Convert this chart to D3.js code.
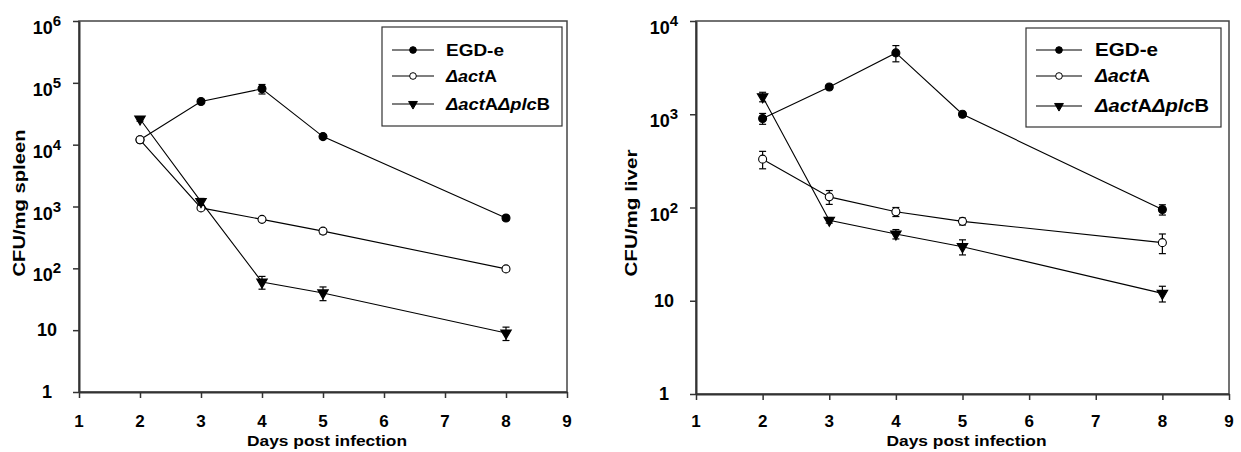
<!DOCTYPE html>
<html>
<head>
<meta charset="utf-8">
<script src="https://cdn.jsdelivr.net/npm/d3@7"></script>
<style>
  body { margin: 0; background: #fff; }
  text { font-family: "Liberation Sans", Arial, sans-serif; font-weight: bold; fill: #000; }
</style>
</head>
<body>
<svg id="chart" width="1241" height="452"></svg>
<script>
// days sampled after infection
var days = [2, 3, 4, 5, 8];
var xTicks = [1, 2, 3, 4, 5, 6, 7, 8, 9];

// spleen (CFU/mg)
var spleenEGDe    = [12000, 50000, 80000, 13500, 650];
var spleenEGDeErr = [800, 3000, 14000, 900, 50];
var spleenActA    = [12000, 950, 620, 400, 98];
var spleenActAErr = [1000, 60, 40, 40, 8];
var spleenPlcB    = [26000, 1200, 60, 40, 9];
var spleenPlcBErr = [2000, 150, 14, 10, 2.2];
var spleenYTicks  = [1, 10, 100, 1e3, 1e4, 1e5, 1e6];

// liver (CFU/mg)
var liverEGDe     = [900, 1960, 4550, 1000, 95];
var liverEGDeErr  = [120, 90, 900, 60, 12];
var liverActA     = [330, 130, 90, 71, 42];
var liverActAErr  = [70, 22, 10, 6, 10];
var liverPlcB     = [1540, 73, 52, 38, 12];
var liverPlcBErr  = [180, 5, 6, 7, 2.3];
var liverYTicks   = [1, 10, 100, 1e3, 1e4];

var svg = d3.select("#chart");

/**
 * Zeichnet ein Panel (Achsen, Reihen, Fehlerbalken, Legende).
 */
function drawPanel(p) {
  var x = d3.scaleLinear().domain([1, 9]).range([p.left, p.right]);
  var y = d3.scaleLog().domain([1, p.yMax]).range([p.bottom, p.top]);

  var g = svg.append("g");

  // Rahmen oben/rechts
  g.append("rect")
    .attr("x", p.left).attr("y", p.top)
    .attr("width", p.right - p.left).attr("height", p.bottom - p.top)
    .attr("fill", "none").attr("stroke", "#444").attr("stroke-width", 1.5);

  // Achsen
  var yAxis = g.append("g")
    .attr("transform", "translate(" + p.left + ",0)")
    .call(d3.axisLeft(y).tickValues(p.yTicks).tickSize(6).tickSizeOuter(0).tickFormat(function() { return ""; }));
  var xAxis = g.append("g")
    .attr("transform", "translate(0," + p.bottom + ")")
    .call(d3.axisBottom(x).tickValues(xTicks).tickSize(6).tickSizeOuter(0).tickFormat(function() { return ""; }));
  [yAxis, xAxis].forEach(function(a) {
    a.select(".domain").attr("stroke", "#333").attr("stroke-width", 2);
    a.selectAll(".tick line").attr("stroke", "#333").attr("stroke-width", 1.5);
  });

  // y-Beschriftung mit Hochzahl
  p.yTicks.forEach(function(v) {
    var e = Math.round(Math.log10(v));
    var t = g.append("text")
      .attr("x", p.left - 32)
      .attr("text-anchor", "middle")
      .style("font-size", "18px");
    if (e < 2) {
      t.attr("y", y(v) + 6).text(v);
    } else {
      t.attr("y", y(v) + 13);
      t.append("tspan").text("10");
      t.append("tspan").attr("dy", -8).style("font-size", "15px").text(e);
    }
  });

  // x-Beschriftung
  xTicks.forEach(function(v) {
    g.append("text")
      .attr("x", x(v)).attr("y", 427)
      .attr("text-anchor", "middle")
      .style("font-size", "17px")
      .text(v);
  });

  // Achsentitel
  g.append("text")
    .attr("x", (p.left + p.right) / 2 + 4).attr("y", 446)
    .attr("text-anchor", "middle").style("font-size", "15px")
    .attr("textLength", p.xTitleLen).attr("lengthAdjust", "spacingAndGlyphs")
    .text("Days post infection");
  g.append("text")
    .attr("transform", "translate(" + p.yTitleX + "," + p.yTitleY + ") rotate(-90)")
    .attr("text-anchor", "middle").style("font-size", "17px")
    .attr("textLength", p.yTitleLen).attr("lengthAdjust", "spacingAndGlyphs")
    .text(p.yTitle);

  var line = d3.line()
    .x(function(d) { return x(d.day); })
    .y(function(d) { return y(d.v); });

  p.series.forEach(function(s) {
    var pts = days.map(function(d, i) { return { day: d, v: s.values[i], err: s.err[i] }; });

    g.append("path").datum(pts)
      .attr("d", line)
      .attr("fill", "none").attr("stroke", "#000").attr("stroke-width", 1.1);

    // Fehlerbalken
    var eb = g.selectAll(null).data(pts).enter().append("g")
      .attr("stroke", "#000").attr("stroke-width", 1.2);
    eb.append("line")
      .attr("x1", function(d) { return x(d.day); }).attr("x2", function(d) { return x(d.day); })
      .attr("y1", function(d) { return y(d.v + d.err); })
      .attr("y2", function(d) { return y(Math.max(d.v - d.err, 1)); });
    [1, -1].forEach(function(sign) {
      eb.append("line")
        .attr("x1", function(d) { return x(d.day) - 3.5; }).attr("x2", function(d) { return x(d.day) + 3.5; })
        .attr("y1", function(d) { return y(Math.max(d.v + sign * d.err, 1)); })
        .attr("y2", function(d) { return y(Math.max(d.v + sign * d.err, 1)); });
    });

    g.selectAll(null).data(pts).enter().append("path")
      .attr("d", d3.symbol().type(s.shape).size(s.size))
      .attr("transform", function(d) {
        return "translate(" + x(d.day) + "," + y(d.v) + ")" + (s.flip ? " rotate(180)" : "");
      })
      .attr("fill", s.fill).attr("stroke", "#000").attr("stroke-width", 1.1);
  });

  // Legende
  var L = p.legend;
  g.append("rect")
    .attr("x", L.x).attr("y", L.y).attr("width", L.w).attr("height", L.h)
    .attr("fill", "#fff").attr("stroke", "#333").attr("stroke-width", 1.2);
  p.series.forEach(function(s, i) {
    var ry = L.y + L.rows[i];
    g.append("line")
      .attr("x1", L.x + 10).attr("x2", L.x + L.lineLen + 10)
      .attr("y1", ry).attr("y2", ry)
      .attr("stroke", "#000").attr("stroke-width", 1.1);
    g.append("path")
      .attr("d", d3.symbol().type(s.shape).size(s.size * 0.7))
      .attr("transform", "translate(" + (L.x + 10 + L.lineLen / 2) + "," + ry + ")" + (s.flip ? " rotate(180)" : ""))
      .attr("fill", s.fill).attr("stroke", "#000").attr("stroke-width", 1);
    var t = g.append("text")
      .attr("x", L.x + L.textX).attr("y", ry + 6)
      .style("font-size", L.font + "px")
      .attr("textLength", L.widths[i]).attr("lengthAdjust", "spacingAndGlyphs");
    s.label.forEach(function(part) {
      t.append("tspan").style("font-style", part[1] ? "italic" : "normal").text(part[0]);
    });
  });
}

var labelEGDe = [["EGD-e", false]];
var labelActA = [["\u0394act", true], ["A", false]];
var labelPlcB = [["\u0394act", true], ["A", false], ["\u0394plc", true], ["B", false]];

function makeSeries(a, aErr, b, bErr, c, cErr) {
  return [
    { values: a, err: aErr, label: labelEGDe, shape: d3.symbolCircle, size: 50, fill: "#000", flip: false },
    { values: b, err: bErr, label: labelActA, shape: d3.symbolCircle, size: 50, fill: "#fff", flip: false },
    { values: c, err: cErr, label: labelPlcB, shape: d3.symbolTriangle, size: 48, fill: "#000", flip: true }
  ];
}

drawPanel({
  left: 79, right: 567, top: 21, bottom: 392, yMax: 1e6, yTicks: spleenYTicks,
  yTitle: "CFU/mg spleen", yTitleX: 25, yTitleY: 203, yTitleLen: 147, xTitleLen: 160,
  series: makeSeries(spleenEGDe, spleenEGDeErr, spleenActA, spleenActAErr, spleenPlcB, spleenPlcBErr),
  legend: { x: 382, y: 27, w: 180, h: 99, rows: [23, 49, 77], lineLen: 42, textX: 64, font: 17, widths: [58, 51, 104] }
});

drawPanel({
  left: 696, right: 1229, top: 21, bottom: 394, yMax: 1e4, yTicks: liverYTicks,
  yTitle: "CFU/mg liver", yTitleX: 637, yTitleY: 213, yTitleLen: 127, xTitleLen: 160,
  series: makeSeries(liverEGDe, liverEGDeErr, liverActA, liverActAErr, liverPlcB, liverPlcBErr),
  legend: { x: 1026, y: 28, w: 195, h: 99, rows: [22, 48, 78], lineLen: 46, textX: 69, font: 18, widths: [63, 55, 114] }
});
</script>
</body>
</html>
